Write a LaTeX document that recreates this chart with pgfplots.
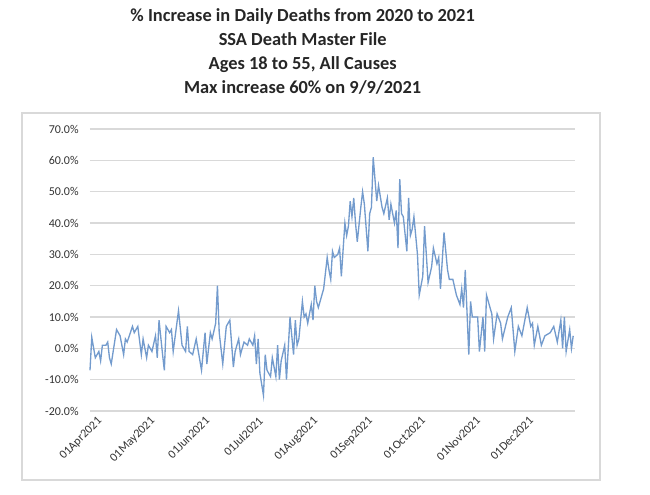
\documentclass[border=0pt]{standalone}
\usepackage{pgfplots}
\pgfplotsset{compat=1.18}
\usepackage{fontspec}
\setmainfont{Carlito}
\definecolor{linec}{RGB}{115,155,205}
\definecolor{gridc}{RGB}{217,217,217}
\begin{document}
\begin{tikzpicture}
\path[use as bounding box] (0,0) rectangle (487.5pt,370.5pt);
\draw[gridc, line width=0.8pt] (16.5pt,10.5pt) rectangle (450pt,285.75pt);
\node[font=\fontsize{13.8}{18}\selectfont\bfseries, align=center, anchor=north, text=black!85] at (227pt,367.5pt)
{\% Increase in Daily Deaths from 2020 to 2021\\SSA Death Master File\\Ages 18 to 55, All Causes\\Max increase 60\% on 9/9/2021};
\begin{axis}[
  at={(67.5pt,62.25pt)}, anchor=south west,
  scale only axis, width=363.75pt, height=211.5pt,
  xmin=0, xmax=274, ymin=-20, ymax=70,
  axis line style={draw=none},
  tick style={draw=none},
  ymajorgrids, grid style={gridc, line width=0.8pt},
  ytick={-20,-10,0,10,20,30,40,50,60,70},
  yticklabels={-20.0\%,-10.0\%,0.0\%,10.0\%,20.0\%,30.0\%,40.0\%,50.0\%,60.0\%,70.0\%},
  xtick={0,30,61,91,122,153,183,214,244},
  xticklabels={01Apr2021,01May2021,01Jun2021,01Jul2021,01Aug2021,01Sep2021,01Oct2021,01Nov2021,01Dec2021},
  x tick label style={rotate=45, anchor=north east, font=\fontsize{9}{10}\selectfont, text=black!80, inner sep=1pt, yshift=-5pt, xshift=2pt},
  y tick label style={font=\fontsize{9}{10}\selectfont, text=black!80},
  yticklabel style={xshift=-5pt},
  clip=false,
]
\addplot[linec, line width=1pt] table {
x y
0 -7
1 3.5
3 -3
5 -1
6 -4
7 1
9 1
10 2
11 -3
12 -5
15 6
17 4
19 -2
20 3
21 2
24 7
25 5
27 7
29 -2
30 3
32 -3
33 1
35 -1
37 4
38 -3
39 9
41 -2
42 -7
43 7
45 5
46 6
47 -1
50 12
52 1
54 -1
55 7
56 -1
58 -2
60 3
63 -7
65 5
66 -5
68 5
69 3
71 8
72 20
73 5
75 -5
77 7
79 9
81 -6
82 -1
84 3
85 -2
87 2
89 1
90 3
92 1
93 4
94 -5
95 3
96 -8
98 -15
99 -2
100 -7
102 -9
103 -3
105 -9
106 1
107 -10
108 -4
110 1
111 -10
113 10
115 -2
116 9
117 1
118 3
120 15
121 10
122 11
123 8
125 14
126 9
127 20
128 15
129 13
131 17
132 19
134 29
135 25
136 22
137 31
138 29
140 30
141 32
142 23
144 40
145 36
146 39
147 47
148 42
149 48
150 40
151 34
153 45
154 50
155 46
157 31
158 43
159 45
160 61
162 47
163 52
165 45
166 43
168 48
169 41
170 46
171 43
172 40
173 44
174 32
175 54
176 43
177 42
179 31
180 48
181 36
182 38
183 42
185 30
186 17
188 23
189 39
191 21
193 26
194 32
196 27
197 29
198 19
200 37
202 25
203 22
205 22
207 17
209 14
210 19
211 13
212 25
214 -2
215 15
216 10
219 10
220 -1
222 10
223 -1
224 17
227 11
228 3
230 11
232 8
233 3
236 10
238 13
240 -1
242 7
244 4
247 13
249 7
250 8
251 1
253 7
255 1
257 4
260 5
262 7
264 2
266 9
267 0
268 10
269 -1
271 6
272 0
273 4
};
\end{axis}
\end{tikzpicture}
\end{document}
